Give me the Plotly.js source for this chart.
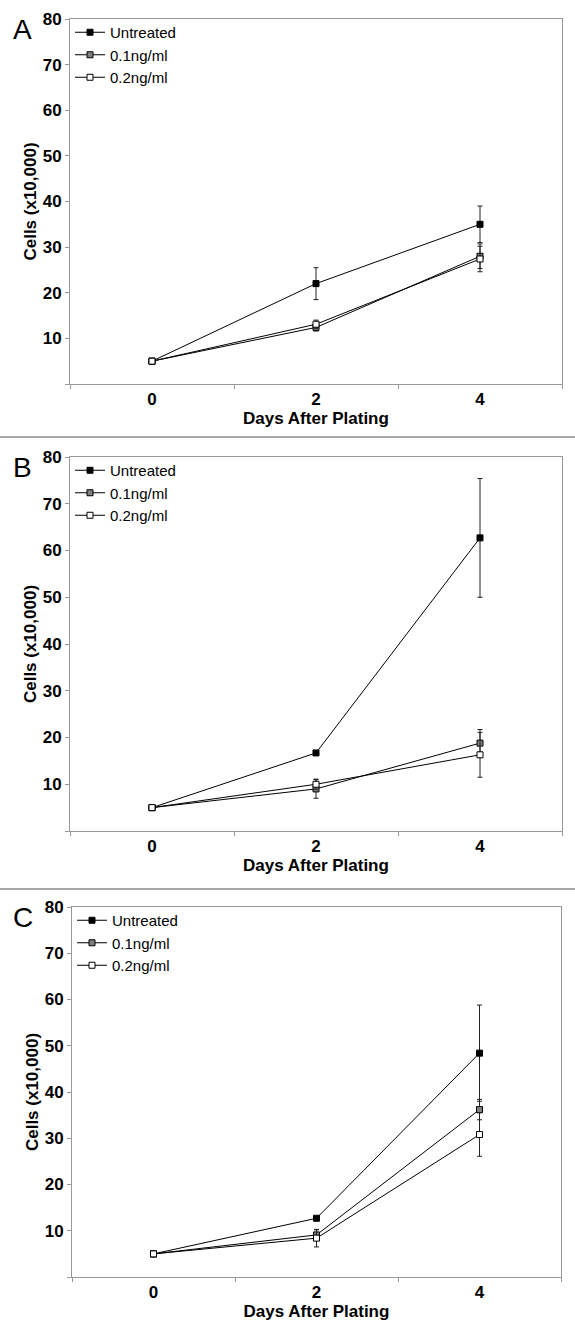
<!DOCTYPE html>
<html>
<head>
<meta charset="utf-8">
<script src="https://cdn.plot.ly/plotly-3.0.1.min.js"></script>
<style>html,body{margin:0;padding:0;background:#fff;}#chart{width:575px;height:1338px;}</style>
</head>
<body>
<div id="chart"></div>
<script>
// ---- data ----
const categories = ['0', '2', '4'];
const seriesNames = ['Untreated', '0.1ng/ml', '0.2ng/ml'];
const panelLabels = ['A', 'B', 'C'];

const A_untreated = [5, 22.0, 35.0];
const A_untreated_err = [0, 3.5, 4.0];
const A_low = [5, 12.4, 28.0];
const A_low_err = [0, 0.8, 2.7];
const A_high = [5, 13.1, 27.4];
const A_high_err = [0, 0.9, 2.8];

const B_untreated = [5, 16.7, 62.7];
const B_untreated_err = [0, 0.4, 12.7];
const B_low = [5, 9.0, 18.8];
const B_low_err = [0, 2.0, 2.9];
const B_high = [5, 10.0, 16.3];
const B_high_err = [0, 1.1, 4.8];

const C_untreated = [5, 12.7, 48.4];
const C_untreated_err = [0, 0.3, 10.4];
const C_low = [5, 9.1, 36.2];
const C_low_err = [0, 1.1, 2.2];
const C_high = [5, 8.4, 30.8];
const C_high_err = [0, 1.9, 4.7];

const yTickVals = [0, 10, 20, 30, 40, 50, 60, 70, 80];
const yTickText = ['', '10', '20', '30', '40', '50', '60', '70', '80'];
const xTitle = 'Days After Plating';
const yTitle = 'Cells (x10,000)';

// ---- build ----
const W = 575, H = 1338;
const FONT = 'Liberation Sans, Arial, sans-serif';
const markerColors = ['#000000', '#808080', '#ffffff'];
const panels = [
  {vals: [A_untreated, A_low, A_high], errs: [A_untreated_err, A_low_err, A_high_err], top: 19, bottom: 384, left: 70, right: 562, sep: null},
  {vals: [B_untreated, B_low, B_high], errs: [B_untreated_err, B_low_err, B_high_err], top: 457, bottom: 831, left: 70, right: 562, sep: 437},
  {vals: [C_untreated, C_low, C_high], errs: [C_untreated_err, C_low_err, C_high_err], top: 907, bottom: 1277, left: 72, right: 561, sep: 889}
];

const traces = [];
const layout = {
  width: W, height: H,
  margin: {l: 0, r: 0, t: 0, b: 0},
  paper_bgcolor: '#fff', plot_bgcolor: '#fff',
  font: {family: FONT, color: '#000'},
  showlegend: true,
  annotations: [], shapes: []
};

panels.forEach((p, i) => {
  const sfx = i === 0 ? '' : String(i + 1);
  const legendName = 'legend' + sfx;
  p.vals.forEach((v, k) => {
    traces.push({
      type: 'scatter', mode: 'lines+markers',
      x: categories, y: v, name: seriesNames[k],
      xaxis: 'x' + sfx, yaxis: 'y' + sfx,
      legend: legendName,
      line: {color: '#000', width: 1},
      marker: {symbol: 'square', size: 6, color: markerColors[k], line: {color: '#000', width: 1}},
      error_y: {type: 'data', array: p.errs[k], visible: true, color: '#222', thickness: 1, width: 2.5}
    });
  });
  const yd = [1 - p.bottom / H, 1 - p.top / H];
  const xd = [p.left / W, p.right / W];
  layout['xaxis' + sfx] = {
    domain: xd, anchor: 'y' + sfx, type: 'category',
    range: [-0.5, 2.5], tickson: 'boundaries',
    ticks: 'outside', ticklen: 4, tickcolor: '#999', tickwidth: 1,
    showline: true, linecolor: '#999', linewidth: 1, mirror: true,
    showgrid: false, zeroline: false,
    tickfont: {family: FONT, size: 17, weight: 'bold', color: '#000'},
    title: {text: xTitle, font: {family: FONT, size: 17, weight: 'bold', color: '#000'}, standoff: 1}
  };
  layout['yaxis' + sfx] = {
    domain: yd, anchor: 'x' + sfx,
    range: [0, 80], tickmode: 'array', tickvals: yTickVals, ticktext: yTickText,
    ticks: 'outside', ticklen: 4, tickcolor: '#999', tickwidth: 1,
    showline: true, linecolor: '#999', linewidth: 1, mirror: true,
    showgrid: false, zeroline: false,
    tickfont: {family: FONT, size: 17, weight: 'bold', color: '#000'},
    title: {text: yTitle, font: {family: FONT, size: 17, weight: 'bold', color: '#000'}, standoff: 1}
  };
  layout[legendName] = {
    x: (p.left + 0) / W, xanchor: 'left',
    y: 1 - (p.top - 3) / H, yanchor: 'top',
    bgcolor: 'rgba(0,0,0,0)', borderwidth: 0,
    font: {family: FONT, size: 15, color: '#000'},
    tracegroupgap: 0, itemwidth: 30
  };
  layout.annotations.push({
    text: panelLabels[i], xref: 'paper', yref: 'paper',
    x: 11 / W, y: 1 - (p.top - 7) / H, xanchor: 'left', yanchor: 'top',
    showarrow: false, font: {family: FONT, size: 28, color: '#000'}
  });
  if (p.sep !== null) {
    layout.shapes.push({
      type: 'line', xref: 'paper', yref: 'paper',
      x0: 0, x1: 1, y0: 1 - p.sep / H, y1: 1 - p.sep / H,
      line: {color: '#888', width: 1.5}
    });
  }
});

Plotly.newPlot('chart', traces, layout, {staticPlot: true, displayModeBar: false});
</script>
</body>
</html>
